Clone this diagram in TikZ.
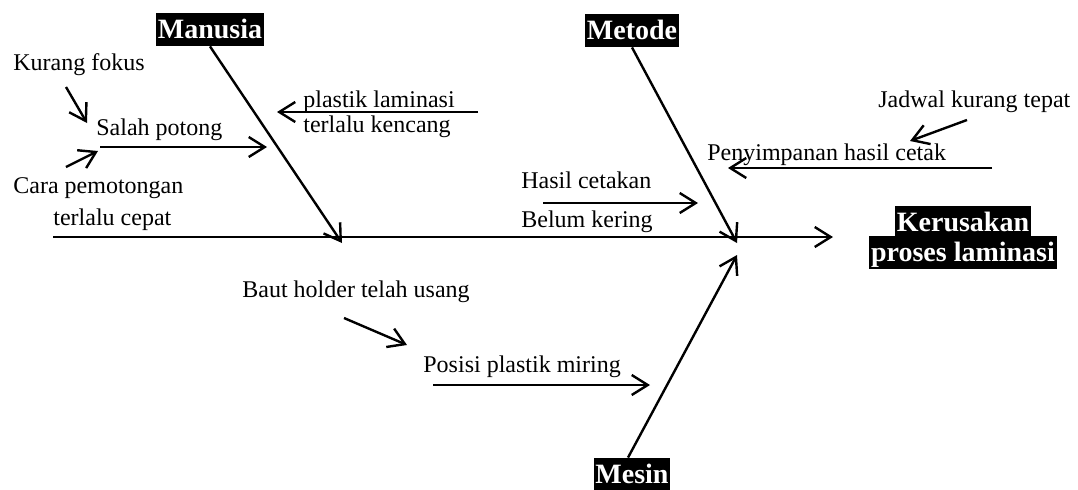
\documentclass[tikz,border=0pt]{standalone}
\usepackage{fontspec}
\setmainfont{Liberation Serif}
\usetikzlibrary{arrows.meta, positioning}

\tikzset{
  bone/.style={-{Straight Barb[length=8pt,width=10pt]}, line width=1.2pt},
  cause/.style={anchor=base west, inner sep=0pt, font=\fontsize{12}{14}\selectfont},
  headbox/.style={anchor=base, fill=black, text=white, font=\fontsize{14}{16}\selectfont\bfseries,
                  text height=12pt, text depth=3.5pt, inner xsep=0.8pt, inner ysep=0.5pt}
}

\begin{document}
\begin{tikzpicture}[x=0.5pt, y=-0.5pt]
  \useasboundingbox (0,0) rectangle (1078,489);

  % Main categories and effect
  \node[headbox] (manusia) at (210,38) {Manusia};
  \node[headbox] (metode) at (632,39) {Metode};
  \node[headbox] (mesin) at (632,483) {Mesin};
  \node[headbox] (kerusakan) at (963,231) {Kerusakan};
  \node[headbox] (proses) at (963,261) {proses laminasi};

  % Spine
  \coordinate (tail) at (53,237);
  \coordinate (head) at (833,237);
  \coordinate (manusiaEnd) at (342,243);
  \coordinate (metodeEnd) at (737,243);
  \coordinate (mesinEnd) at (737,255);
  \draw[bone] (tail) -- (head);
  \draw[bone] (manusia.south) -- (manusiaEnd);
  \draw[bone] (metode.south) -- (metodeEnd);
  \draw[bone] ([xshift=-2pt]mesin.north) -- (mesinEnd);

  % Manusia
  \node[cause] (kurang) at (13,70) {Kurang fokus};
  \node[cause] (salah) at (96,135) {Salah potong};
  \node[cause] (cara) at (13,193) {Cara pemotongan};
  \node[cause] (cepat) at (53,225) {terlalu cepat};
  \node[cause] (plastik) at (303,107) {plastik laminasi};
  \node[cause] (kencang) at (303,132) {terlalu kencang};
  \coordinate (kurangA) at (66,87);   \coordinate (kurangB) at (87,123);
  \coordinate (salahA) at (100,147);  \coordinate (salahB) at (267,147);
  \coordinate (caraA) at (66,167);    \coordinate (caraB) at (98,151);
  \coordinate (plastikA) at (478,112); \coordinate (plastikB) at (277,112);
  \draw[bone] (kurangA) -- (kurangB);
  \draw[bone] (salahA) -- (salahB);
  \draw[bone] (caraA) -- (caraB);
  \draw[bone] (plastikA) -- (plastikB);

  % Metode
  \node[cause] (hasil) at (521,188) {Hasil cetakan};
  \node[cause] (belum) at (521,227) {Belum kering};
  \node[cause] (jadwal) at (878,107) {Jadwal kurang tepat};
  \node[cause] (simpan) at (707,160) {Penyimpanan hasil cetak};
  \coordinate (hasilA) at (543,203);  \coordinate (hasilB) at (698,203);
  \coordinate (jadwalA) at (967,120); \coordinate (jadwalB) at (910,141);
  \coordinate (simpanA) at (992,168); \coordinate (simpanB) at (728,168);
  \draw[bone] (hasilA) -- (hasilB);
  \draw[bone] (jadwalA) -- (jadwalB);
  \draw[bone] (simpanA) -- (simpanB);

  % Mesin
  \node[cause] (baut) at (242,297) {Baut holder telah usang};
  \node[cause] (posisi) at (423,372) {Posisi plastik miring};
  \coordinate (bautA) at (344,318);   \coordinate (bautB) at (407,345);
  \coordinate (posisiA) at (433,385); \coordinate (posisiB) at (650,385);
  \draw[bone] (bautA) -- (bautB);
  \draw[bone] (posisiA) -- (posisiB);
\end{tikzpicture}
\end{document}
